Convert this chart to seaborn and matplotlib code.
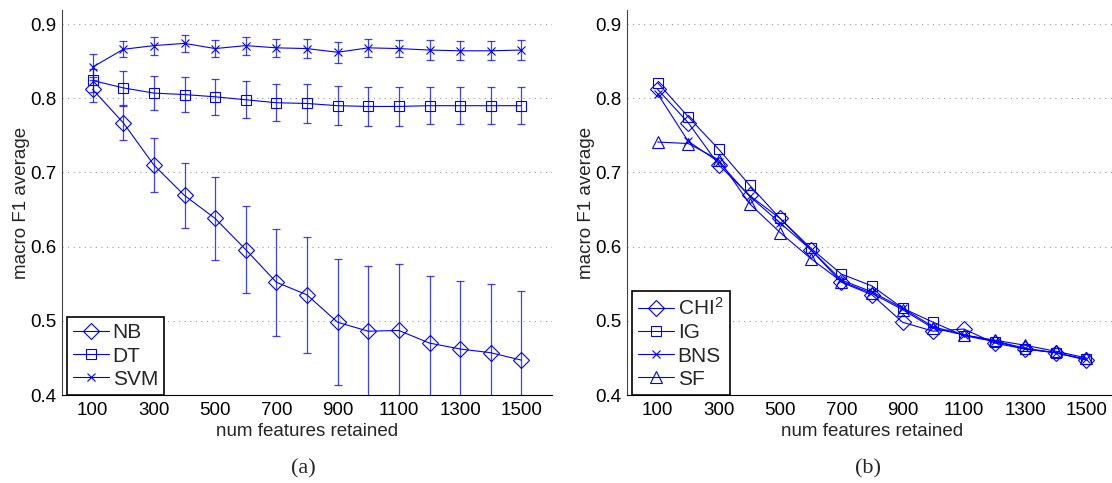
import numpy as np
import pandas as pd
import seaborn as sns
import matplotlib
matplotlib.use("Agg")
import matplotlib.pyplot as plt

# values
features = [100, 200, 300, 400, 500, 600, 700, 800, 900, 1000, 1100, 1200, 1300, 1400, 1500]

nb = [0.812, 0.767, 0.710, 0.669, 0.638, 0.596, 0.552, 0.535, 0.498, 0.486, 0.487, 0.470, 0.462, 0.457, 0.447]
nb_err = [0.017, 0.023, 0.036, 0.044, 0.056, 0.059, 0.072, 0.078, 0.085, 0.088, 0.090, 0.091, 0.092, 0.093, 0.093]
dt = [0.824, 0.814, 0.807, 0.805, 0.802, 0.798, 0.794, 0.793, 0.790, 0.789, 0.789, 0.790, 0.790, 0.790, 0.790]
dt_err = [0.015, 0.023, 0.023, 0.024, 0.024, 0.025, 0.025, 0.026, 0.026, 0.026, 0.026, 0.025, 0.025, 0.025, 0.025]
svm = [0.842, 0.866, 0.871, 0.874, 0.867, 0.871, 0.868, 0.867, 0.862, 0.868, 0.867, 0.865, 0.864, 0.864, 0.865]
svm_err = [0.018, 0.011, 0.012, 0.011, 0.012, 0.012, 0.012, 0.013, 0.014, 0.012, 0.012, 0.013, 0.013, 0.013, 0.013]

chi2 = [0.812, 0.767, 0.710, 0.669, 0.638, 0.596, 0.552, 0.535, 0.498, 0.486, 0.489, 0.470, 0.462, 0.457, 0.447]
ig = [0.821, 0.775, 0.731, 0.683, 0.638, 0.598, 0.563, 0.547, 0.517, 0.498, 0.480, 0.472, 0.462, 0.457, 0.448]
bns = [0.806, 0.742, 0.714, 0.668, 0.632, 0.596, 0.555, 0.539, 0.517, 0.492, 0.481, 0.473, 0.463, 0.457, 0.448]
sf = [0.741, 0.739, 0.717, 0.658, 0.619, 0.584, 0.553, 0.537, 0.515, 0.490, 0.481, 0.474, 0.467, 0.459, 0.450]

tick_x = [100, 300, 500, 700, 900, 1100, 1300, 1500]
tick_y = [0.4, 0.5, 0.6, 0.7, 0.8, 0.9]

sns.set_style("white")
plt.rcParams["font.family"] = ["Liberation Sans", "DejaVu Sans"]
plt.rcParams["mathtext.fontset"] = "custom"
plt.rcParams["mathtext.rm"] = "Liberation Sans"
plt.rcParams["mathtext.it"] = "Liberation Sans"

blue = "#0000ff"
fs = 13.5
fig = plt.figure(figsize=(11.12, 4.83), dpi=100)
ax1 = fig.add_axes([62 / 1112, 1 - 395 / 483, 490 / 1112, 385 / 483])
ax2 = fig.add_axes([627 / 1112, 1 - 395 / 483, 490 / 1112, 385 / 483])


def style_axes(ax):
    ax.set_xlim(0, 1600)
    ax.set_ylim(0.4, 0.919)
    ax.set_xticks(tick_x)
    ax.set_yticks(tick_y)
    ax.set_yticklabels([f"{v:.1f}" for v in tick_y])
    ax.tick_params(direction="in", length=4, labelsize=fs, colors="black", width=0.8)
    ax.tick_params(axis="y", pad=4)
    ax.tick_params(axis="x", pad=5)
    ax.grid(axis="y", linestyle=(0, (1, 4)), color="#999999", linewidth=0.8)
    ax.grid(axis="x", visible=False)
    for s in ["top", "right"]:
        ax.spines[s].set_visible(False)
    ax.spines["left"].set_color("#444444")
    ax.spines["bottom"].set_color("black")
    ax.set_xlabel("num features retained", fontsize=fs, labelpad=3)
    ax.set_ylabel("macro F1 average", fontsize=fs, labelpad=0)


def draw(ax, y, marker, label, ms, err=None):
    if err is not None:
        ax.errorbar(features, y, yerr=err, fmt="none", ecolor=blue, elinewidth=0.9,
                    capsize=3, capthick=0.9, alpha=0.75, zorder=2)
    sns.lineplot(x=features, y=y, ax=ax, color=blue, linewidth=0.8, marker=marker,
                 markersize=ms, markerfacecolor="none", markeredgecolor=blue,
                 markeredgewidth=0.8, label=label, zorder=3)


draw(ax1, nb, "D", "NB", 8, nb_err)
draw(ax1, dt, "s", "DT", 7, dt_err)
draw(ax1, svm, "x", "SVM", 6, svm_err)

draw(ax2, chi2, "D", r"CHI$^{2}$", 8)
draw(ax2, ig, "s", "IG", 7)
draw(ax2, bns, "x", "BNS", 6)
draw(ax2, sf, "^", "SF", 9)

for ax in (ax1, ax2):
    style_axes(ax)
    leg = ax.legend(loc="lower left", bbox_to_anchor=(0.01, 0.0), fontsize=15,
                    frameon=True, fancybox=False, edgecolor="black", framealpha=1,
                    handlelength=1.7, handletextpad=0.2, borderpad=0.3,
                    labelspacing=0.2, borderaxespad=0.0)
    leg.get_frame().set_linewidth(1.2)

fig.text(303 / 1112, 1 - 469 / 483, "(a)", ha="center", va="center",
         fontsize=16, family=["Liberation Serif", "DejaVu Serif"])
fig.text(868 / 1112, 1 - 469 / 483, "(b)", ha="center", va="center",
         fontsize=16, family=["Liberation Serif", "DejaVu Serif"])

fig.savefig("out.png", dpi=100)
